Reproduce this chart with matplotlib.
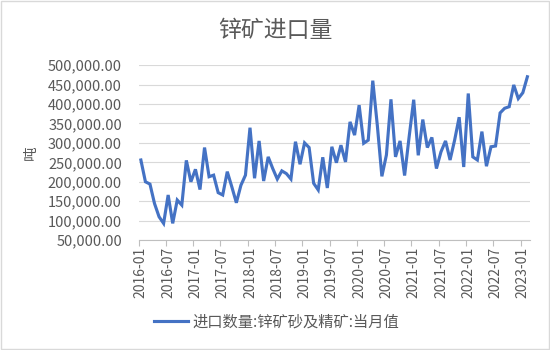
import matplotlib
matplotlib.use('Agg')
import matplotlib.pyplot as plt
import pandas as pd
from matplotlib.ticker import FuncFormatter, FixedLocator

plt.rcParams['font.family'] = ['Noto Sans CJK SC', 'DejaVu Sans']

# monthly zinc ore & concentrate imports (tonnes), 2016-01 .. 2023-02
months = pd.period_range('2016-01', '2023-02', freq='M').strftime('%Y-%m').tolist()
imports = [
    256000, 200000, 194000, 144000, 110000, 93000, 166000, 93000, 153000, 140000, 255000, 200000,
    232000, 180000, 288000, 213000, 217000, 172000, 166000, 226000, 187000, 146000, 191000, 217000,
    339000, 209000, 305000, 202000, 264000, 234000, 207000, 228000, 221000, 207000, 303000, 245000,
    300000, 288000, 196000, 179000, 263000, 184000, 290000, 249000, 294000, 251000, 354000, 320000,
    397000, 299000, 307000, 460000, 345000, 214000, 269000, 412000, 264000, 305000, 216000, 316000,
    411000, 268000, 360000, 288000, 314000, 234000, 277000, 305000, 256000, 307000, 366000, 238000,
    427000, 264000, 256000, 329000, 240000, 290000, 292000, 377000, 389000, 393000, 449000, 414000,
    429000, 470000,
]
series_name = '进口数量:锌矿砂及精矿:当月值'
title = '锌矿进口量'
y_label = '吨'

grey = '#595959'

fig = plt.figure(figsize=(5.5, 3.5), dpi=100)
ax = fig.add_axes([0.252, 0.314, 0.711, 0.5])

x = list(range(len(months)))
line, = ax.plot(x, imports, color='#4472C4', lw=2.25, solid_joinstyle='miter',
                label=series_name)

ax.set_xlim(-0.5, len(months) - 0.5)
ax.set_ylim(50000, 500000)
ax.set_yticks(range(50000, 500001, 50000))
ax.yaxis.set_major_formatter(FuncFormatter(lambda v, p: f'{v:,.2f}'))
ax.grid(axis='y', color='#d9d9d9', lw=0.8)
ax.set_axisbelow(True)

# labels under categories, ticks at category boundaries
ax.set_xticks(x[::6])
ax.set_xticklabels(months[::6], rotation=90)
ax.xaxis.set_minor_locator(FixedLocator([i - 0.5 for i in x[::6]]))
ax.tick_params(axis='x', which='major', length=0, pad=5, labelsize=10, labelcolor=grey)
ax.tick_params(axis='x', which='minor', length=4, color='#bfbfbf', width=0.8)
ax.tick_params(axis='y', length=0, pad=12, labelsize=10.5, labelcolor=grey)

for s in ['top', 'right', 'left']:
    ax.spines[s].set_visible(False)
ax.spines['bottom'].set_color('#bfbfbf')
ax.spines['bottom'].set_linewidth(0.8)

fig.text(0.057, 0.565, y_label, rotation=90, ha='center', va='center', fontsize=10.5, color=grey)
fig.text(0.5, 0.914, title, ha='center', va='center', fontsize=16.5, color=grey)

fig.legend(handles=[line], loc='center', bbox_to_anchor=(0.503, 0.08), frameon=False,
           fontsize=11, labelcolor=grey, handlelength=2.2, handletextpad=0.3)

fig.patches.append(plt.Rectangle((0.002, 0.003), 0.996, 0.994, transform=fig.transFigure,
                                 fill=False, edgecolor='#d9d9d9', lw=1))

fig.savefig('out.png', dpi=100)
